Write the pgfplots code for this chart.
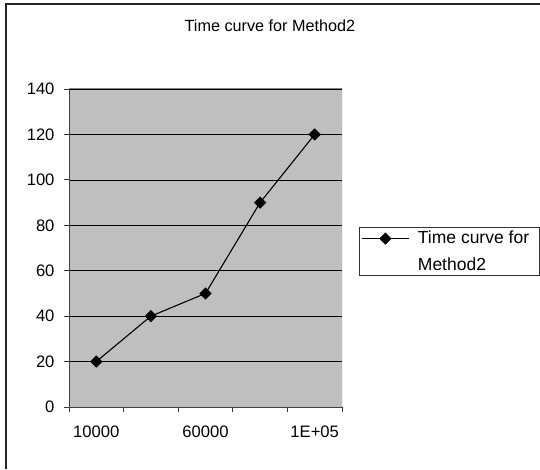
\documentclass[border=0pt]{standalone}
\usepackage{pgfplots}
\pgfplotsset{compat=1.18}
\usepackage{fontspec}
\setmainfont{Liberation Sans}
\begin{document}
\fontsize{16}{19}\selectfont
\begin{tikzpicture}
\path[use as bounding box] (0pt,0pt) rectangle (540pt,469pt);
% outer chart frame (only top and left edges show)
\draw[line width=1.6pt,black!85] (6pt,0pt) -- (6pt,465pt) -- (540pt,465pt);
\begin{axis}[
    at={(69pt,62pt)}, anchor=south west,
    scale only axis,
    width=273pt, height=318pt,
    xmin=0.5, xmax=5.5,
    ymin=0, ymax=140,
    xtick={1,3,5},
    xticklabels={10000,60000,1E+05},
    minor xtick={0.5,1.5,2.5,3.5,4.5,5.5},
    ytick={0,20,...,140},
    major x tick style={draw=none},
    tick align=outside,
    major tick length=5pt,
    minor tick length=5pt,
    tick style={black!80, line width=0.8pt},
    ymajorgrids,
    grid style={black, line width=0.7pt},
    axis background/.style={fill=black!25},
    axis x line*=bottom, axis y line*=left,
    axis line style={black!75, line width=1pt},
    x tick label style={yshift=-8pt},
    y tick label style={xshift=-4pt},
    /pgf/number format/assume math mode=true,
    tick label style={font=\fontsize{16.6}{19}\selectfont},
    title={Time curve for Method2},
    title style={at={(axis description cs:0.736,1.179)}, anchor=center,
        font=\fontsize{16.2}{19}\selectfont},
    legend style={at={(axis description cs:1.062,0.412)}, anchor=south west,
        draw=black!80, line width=0.8pt, font=\fontsize{17.5}{27}\selectfont,
        nodes={align=left, inner xsep=8.5pt}, inner xsep=2pt, inner ysep=1pt},
    legend cell align=left,
    legend image code/.code={
        \draw[mark repeat=2,mark phase=2,#1]
        plot coordinates {(0pt,13pt) (23.5pt,13pt) (47pt,13pt)};},
]
\addplot[black, line width=1.1pt, mark=square*, mark size=3.8pt,
    mark options={rotate=45, solid}]
    coordinates {(1,20) (2,40) (3,50) (4,90) (5,120)};
\addlegendentry{Time curve for\\Method2}
\draw[black!50, line width=1pt] (axis cs:0.5,140) -- (axis cs:5.5,140) -- (axis cs:5.5,0);
\end{axis}
\end{tikzpicture}
\end{document}
